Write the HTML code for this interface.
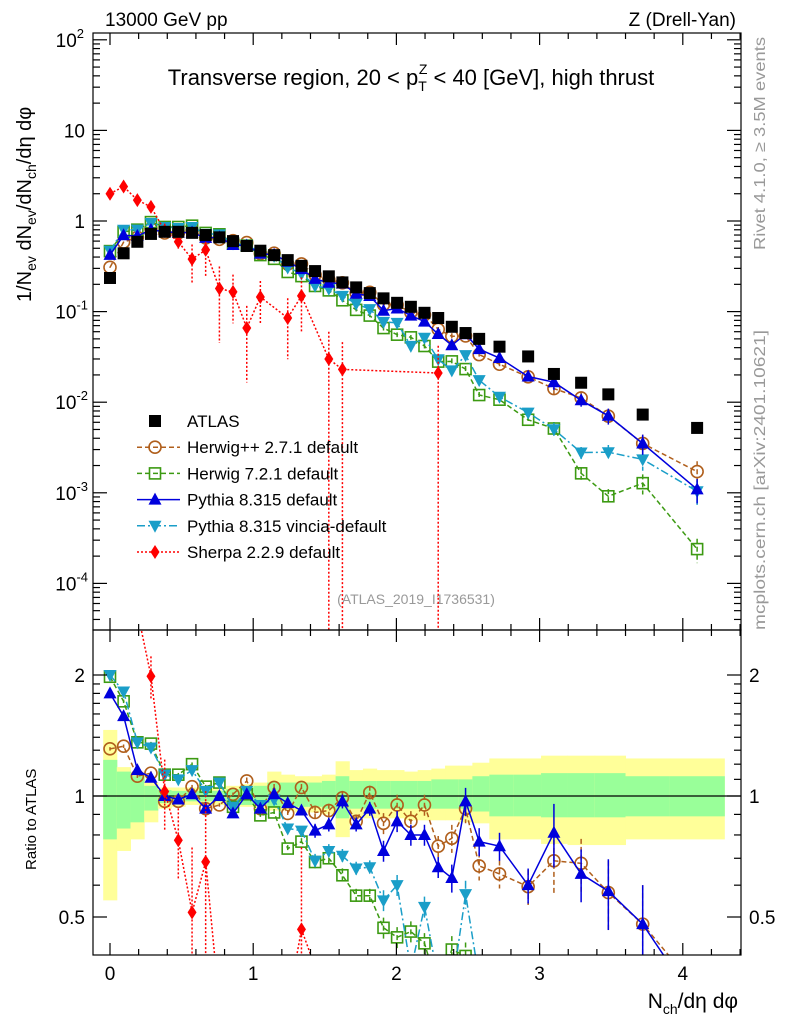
<!DOCTYPE html>
<html><head><meta charset="utf-8">
<style>
html,body{margin:0;padding:0;background:#fff;overflow:hidden;}
svg{display:block;font-family:"Liberation Sans",sans-serif;}
</style></head>
<body>
<svg id="chart" width="786" height="1024" viewBox="0 0 786 1024" xmlns="http://www.w3.org/2000/svg">
<defs>
<clipPath id="clipMain"><rect x="93" y="33" width="648" height="597"/></clipPath>
<clipPath id="clipRatio"><rect x="93" y="630" width="648" height="325"/></clipPath>
</defs>
<rect width="786" height="1024" fill="#fff"/>
<text x="105" y="26" font-size="19">13000 GeV pp</text>
<text x="736" y="26" font-size="19" text-anchor="end">Z (Drell-Yan)</text>
<text x="411" y="85" font-size="22" text-anchor="middle">Transverse region, 20 &lt; p<tspan font-size="14" dy="6">T</tspan><tspan font-size="14" dx="-8" dy="-17">Z</tspan><tspan dy="11"> &lt; 40 [GeV], high thrust</tspan></text>
<text transform="translate(31,302) rotate(-90)" font-size="20">1/N<tspan font-size="14" dy="5">ev</tspan><tspan dy="-5"> dN</tspan><tspan font-size="14" dy="5">ev</tspan><tspan dy="-5">/dN</tspan><tspan font-size="14" dy="5">ch</tspan><tspan dy="-5">/dη dφ</tspan></text>
<text transform="translate(765,250) rotate(-90)" font-size="16" fill="#999" textLength="213" lengthAdjust="spacingAndGlyphs">Rivet 4.1.0, ≥ 3.5M events</text>
<text transform="translate(765,630) rotate(-90)" font-size="16" fill="#999" textLength="300" lengthAdjust="spacingAndGlyphs">mcplots.cern.ch [arXiv:2401.10621]</text>
<text x="416" y="604" font-size="14" fill="#999" text-anchor="middle">(ATLAS_2019_I1736531)</text>
<text transform="translate(36,870) rotate(-90)" font-size="15">Ratio to ATLAS</text>
<text x="738" y="1008" font-size="21" text-anchor="end">N<tspan font-size="14" dy="6">ch</tspan><tspan dy="-6">/dη dφ</tspan></text>
<g id="gBands"></g>
<g id="gMain" clip-path="url(#clipMain)"></g>
<g id="gRatio" clip-path="url(#clipRatio)"></g>
<g id="gAxes"></g>
<g id="gLegend"></g>
</svg>
<script>
const xs = [0,0.095,0.191,0.286,0.382,0.477,0.573,0.668,0.764,0.859,0.955,1.050,1.146,1.241,1.337,1.432,1.528,1.623,1.719,1.814,1.910,2.005,2.101,2.196,2.292,2.387,2.483,2.578,2.72,2.92,3.10,3.29,3.48,3.72,4.10];
const atlas = [0.235,0.44,0.59,0.72,0.76,0.76,0.74,0.70,0.66,0.60,0.53,0.47,0.42,0.37,0.32,0.28,0.245,0.21,0.185,0.16,0.14,0.125,0.113,0.097,0.085,0.068,0.058,0.050,0.041,0.032,0.0205,0.0164,0.0122,0.0073,0.0052];
const ratioHerwigPP = [1.31,1.33,1.12,1.14,0.97,0.97,1.055,0.93,0.95,1.01,1.09,0.93,1.05,0.905,1.05,0.91,0.92,0.99,0.865,1.02,0.855,0.95,0.865,0.95,0.75,0.785,0.93,0.67,0.64,0.595,0.69,0.68,0.575,0.48,0.33];
const ratioHerwig7 = [1.98,1.72,1.36,1.35,1.13,1.13,1.2,1.055,1.08,0.94,1.01,0.895,0.91,0.74,0.77,0.685,0.70,0.635,0.565,0.565,0.47,0.445,0.46,0.43,0.33,0.415,0.40,0.24,0.26,0.20,0.25,0.10,0.075,0.175,0.046];
const ratioPythia = [1.80,1.58,1.16,1.11,1.0,0.98,1.01,0.93,1.0,0.905,1.01,0.93,1.01,0.96,0.92,0.82,0.85,0.97,0.85,0.93,0.73,0.865,0.80,0.80,0.665,0.625,0.97,0.77,0.75,0.60,0.81,0.64,0.58,0.48,0.21];
const ratioVincia = [2.0,1.82,1.36,1.32,1.13,1.1,1.16,1.03,1.08,0.94,1.03,0.95,0.98,0.83,0.82,0.69,0.73,0.71,0.66,0.665,0.55,0.60,0.37,0.53,0.35,0.33,0.57,0.35,0.28,0.24,0.245,0.17,0.23,0.32,0.20];
const mcErr = [0.01,0.01,0.01,0.01,0.01,0.01,0.01,0.01,0.01,0.01,0.02,0.02,0.02,0.02,0.02,0.04,0.04,0.04,0.04,0.04,0.06,0.06,0.06,0.06,0.06,0.08,0.08,0.08,0.08,0.1,0.18,0.15,0.2,0.25,0.3];
const sherpa = [2.0,2.4,1.7,1.43,0.78,0.59,0.38,0.48,0.18,0.165,0.066,0.145,null,0.085,0.149,null,0.030,0.023,null,null,null,null,null,null,0.021,null,null,null,null,null,null,null,null,null,null];
const sherpaErr = [0.1,0.08,0.1,0.12,0.2,0.2,0.45,0.5,0.75,0.55,0.75,0.5,null,0.65,0.6,null,1,1,null,null,null,null,null,null,1,null,null,null,null,null,null,null,null,null,null];
const bandYellowHi = [1.46,1.18,1.14,1.08,1.05,1.05,1.05,1.05,1.05,1.06,1.07,1.08,1.15,1.13,1.12,1.12,1.13,1.22,1.16,1.17,1.16,1.16,1.15,1.16,1.17,1.19,1.19,1.21,1.24,1.24,1.26,1.26,1.26,1.24,1.24];
const bandYellowLo = [0.55,0.73,0.78,0.86,0.93,0.94,0.95,0.95,0.95,0.95,0.94,0.93,0.92,0.92,0.91,0.91,0.90,0.79,0.88,0.88,0.88,0.88,0.87,0.87,0.87,0.87,0.86,0.855,0.78,0.78,0.76,0.755,0.755,0.78,0.78];
const bandGreenHi = [1.23,1.15,1.12,1.06,1.035,1.03,1.03,1.03,1.03,1.04,1.05,1.06,1.08,1.08,1.08,1.08,1.09,1.12,1.09,1.09,1.09,1.09,1.09,1.09,1.10,1.10,1.10,1.12,1.13,1.13,1.14,1.14,1.14,1.12,1.12];
const bandGreenLo = [0.78,0.83,0.86,0.92,0.96,0.97,0.97,0.97,0.97,0.96,0.95,0.95,0.94,0.94,0.94,0.94,0.93,0.88,0.93,0.93,0.93,0.93,0.93,0.93,0.93,0.93,0.93,0.915,0.89,0.89,0.885,0.885,0.885,0.89,0.89];
const xTickLabels = ["0","1","2","3","4"];
const legendLabels = ["ATLAS","Herwig++ 2.7.1 default","Herwig 7.2.1 default","Pythia 8.315 default","Pythia 8.315 vincia-default","Sherpa 2.2.9 default"];

const NS="http://www.w3.org/2000/svg";
const L=93,R=741,MT=33,MB=630,RT=630,RB=955;
const X=v=>110+143.2*v;
const YM=v=>221-90.6*Math.log10(v);
const YR=r=>796-121*Math.log2(r);
function mk(tag,attrs,parent){const e=document.createElementNS(NS,tag);for(const k in attrs)e.setAttribute(k,attrs[k]);parent.appendChild(e);return e;}
const gB=document.getElementById('gBands'),gM=document.getElementById('gMain'),gR=document.getElementById('gRatio'),gA=document.getElementById('gAxes'),gL=document.getElementById('gLegend');

const edges=[];
for(let i=0;i<=xs.length;i++){
  if(i===0)edges.push(xs[0]-(xs[1]-xs[0])/2);
  else if(i===xs.length)edges.push(xs[i-1]+(xs[i-1]-xs[i-2])/2);
  else edges.push((xs[i-1]+xs[i])/2);
}
for(let i=0;i<xs.length;i++){
  const y=mk('rect',{x:X(edges[i]),y:YR(bandYellowHi[i]),width:X(edges[i+1])-X(edges[i])+0.5,height:YR(bandYellowLo[i])-YR(bandYellowHi[i]),fill:'#ffff99'},gB);
  
  
  const g=mk('rect',{x:X(edges[i]),y:YR(bandGreenHi[i]),width:X(edges[i+1])-X(edges[i])+0.5,height:YR(bandGreenLo[i])-YR(bandGreenHi[i]),fill:'#99ff99'},gB);
  
  
}
const one=mk('line',{x1:L,x2:R,y1:YR(1),y2:YR(1),stroke:'#000','stroke-width':1.3},gB);



function marker(g,type,cx,cy,color){
  let e;
  if(type==='sq')e=mk('rect',{x:cx-6,y:cy-6,width:12,height:12,fill:'#000'},g);
  else if(type==='circ')e=mk('circle',{cx:cx,cy:cy,r:6,fill:'none',stroke:color,'stroke-width':1.6},g);
  else if(type==='osq')e=mk('rect',{x:cx-5.5,y:cy-5.5,width:11,height:11,fill:'none',stroke:color,'stroke-width':1.6},g);
  else if(type==='tup')e=mk('polygon',{points:`${cx},${cy-7} ${cx-6.5},${cy+5} ${cx+6.5},${cy+5}`,fill:color},g);
  else if(type==='tdn')e=mk('polygon',{points:`${cx},${cy+7} ${cx-6.5},${cy-5} ${cx+6.5},${cy-5}`,fill:color},g);
  else e=mk('polygon',{points:`${cx},${cy-7} ${cx-4.5},${cy} ${cx},${cy+7} ${cx+4.5},${cy}`,fill:color},g);
  return e;
}
const series=[
 {name:'herwigpp',ratio:ratioHerwigPP,color:'#b05f1c',dash:'5,3',m:'circ'},
 {name:'herwig7',ratio:ratioHerwig7,color:'#3c9a12',dash:'5,3',m:'osq'},
 {name:'vincia',ratio:ratioVincia,color:'#1a9ec8',dash:'8,3,2,3',m:'tdn'},
 {name:'pythia',ratio:ratioPythia,color:'#0000dd',dash:'',m:'tup'}
];
function drawSeries(g,vals,errs,Y,color,dash,m,nm,yMin,yMax){
  let d='';
  vals.forEach((v,i)=>{ if(v==null||v<=0)return; d+=(d?'L':'M')+X(xs[i]).toFixed(1)+','+Math.max(yMin-50,Math.min(yMax+50,Y(v))).toFixed(1);});
  const p=mk('path',{d:d,fill:'none',stroke:color,'stroke-width':1.5,'stroke-dasharray':dash},g);
  
  
  vals.forEach((v,i)=>{
    if(v==null||v<=0)return;
    const cy=Y(v);
    if(cy<yMin-20||cy>yMax+20)return;
    const e=errs[i];
    const y1=Math.max(yMin,Y(v*(1+e)));
    const y2=e>=1?yMax:Math.min(yMax,Y(v*(1-e)));
    const eb=mk('line',{x1:X(xs[i]),x2:X(xs[i]),y1:y1,y2:y2,stroke:color,'stroke-width':1.5,'stroke-dasharray':dash},g);
    
    
    const mm=marker(g,m,X(xs[i]),cy,color);
    
    
  });
}
series.forEach(s=>{
  const main=s.ratio.map((r,i)=>r*atlas[i]);
  drawSeries(gM,main,mcErr,YM,s.color,s.dash,s.m,s.name,MT,MB);
  drawSeries(gR,s.ratio,mcErr,YR,s.color,s.dash,s.m,s.name+'-ratio',RT,RB);
});
drawSeries(gM,sherpa,sherpaErr,YM,'#ff0000','2,2','dia','sherpa',MT,MB);
drawSeries(gR,sherpa.map((v,i)=>v==null?null:v/atlas[i]),sherpaErr,YR,'#ff0000','2,2','dia','sherpa-ratio',RT,RB);
atlas.forEach((v,i)=>{
  const s=marker(gM,'sq',X(xs[i]),YM(v),'#000');
  
  
});

[[MT,MB],[RT,RB]].forEach(([t,b],k)=>{
  const f=mk('rect',{x:L,y:t,width:R-L,height:b-t,fill:'none',stroke:'#000','stroke-width':1.2},gA);
  
  
  for(let n=0;n<=22;n++){
    const xv=n/5;const x=X(xv);if(x<L||x>R)continue;
    const major=(n%5===0);const len=major?12:6;
    mk('line',{x1:x,x2:x,y1:b,y2:b-len,stroke:'#000','stroke-width':1.2},gA);
    mk('line',{x1:x,x2:x,y1:t,y2:t+len,stroke:'#000','stroke-width':1.2},gA);
  }
});
xTickLabels.forEach((lab,i)=>{
  const t=mk('text',{x:X(i),y:980,'font-size':19,'text-anchor':'middle'},gA);
  t.textContent=lab;
  
  
});
for(let e=-5;e<=2;e++){
  for(let m=1;m<10;m++){
    const v=m*Math.pow(10,e);const y=YM(v);if(y<MT||y>MB)continue;
    const len=m===1?14:7;
    mk('line',{x1:L,x2:L+len,y1:y,y2:y,stroke:'#000','stroke-width':1.2},gA);
    mk('line',{x1:R,x2:R-len,y1:y,y2:y,stroke:'#000','stroke-width':1.2},gA);
    if(m===1){
      const t=mk('text',{x:85,y:y+7,'font-size':19,'text-anchor':'end'},gA);
      
      
      if(e===0)t.textContent='1';
      else if(e===1)t.textContent='10';
      else{t.textContent='10';const s=document.createElementNS(NS,'tspan');s.setAttribute('font-size','13');s.setAttribute('dy','-9');s.textContent=String(e);t.appendChild(s);t.setAttribute('x',e<0?88:84);}
    }
  }
}
[0.5,0.6,0.7,0.8,0.9,1,1.1,1.2,1.3,1.4,1.5,1.6,1.7,1.8,1.9,2].forEach(r=>{
  const y=YR(r);const major=(r===0.5||r===1||r===2);const len=major?14:7;
  mk('line',{x1:L,x2:L+len,y1:y,y2:y,stroke:'#000','stroke-width':1.2},gA);
  mk('line',{x1:R,x2:R-len,y1:y,y2:y,stroke:'#000','stroke-width':1.2},gA);
  if(major){
    const t=mk('text',{x:85,y:y+7,'font-size':19,'text-anchor':'end'},gA);t.textContent=String(r);
    
    
    const t2=mk('text',{x:749,y:y+7,'font-size':19},gA);t2.textContent=String(r);
    
    
  }
});
const legStyles=[['sq','#000',''],['circ','#b05f1c','5,3'],['osq','#3c9a12','5,3'],['tup','#0000dd',''],['tdn','#1a9ec8','8,3,2,3'],['dia','#ff0000','2,2']];
legendLabels.forEach((lab,i)=>{
  const y=421+26.2*i;
  const g=mk('g',{},gL);
  
  
  if(i>0)mk('line',{x1:137,x2:180,y1:y,y2:y,stroke:legStyles[i][1],'stroke-width':1.5,'stroke-dasharray':legStyles[i][2]},g);
  marker(g,legStyles[i][0],155,y,legStyles[i][1]);
  const t=mk('text',{x:187,y:y+6,'font-size':17},g);t.textContent=lab;
});
</script>
</body></html>
